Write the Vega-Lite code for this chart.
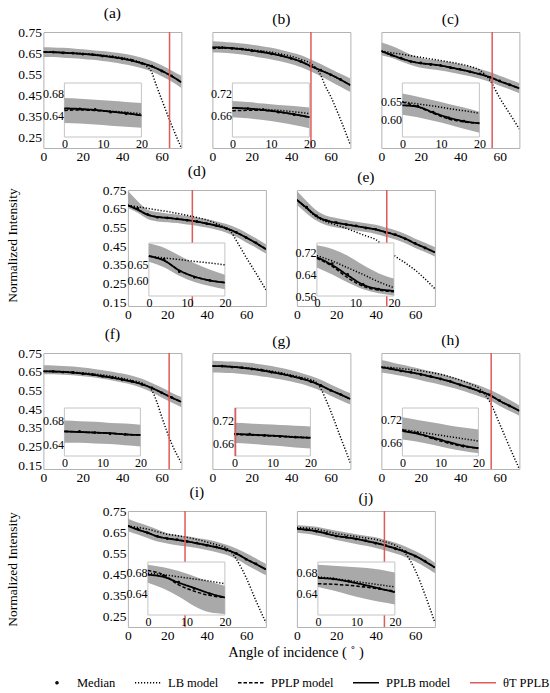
{
  "$schema": "https://vega.github.io/schema/vega-lite/v6.json",
  "config": {
    "font": "Liberation Serif",
    "view": {"stroke": "#b3b3b3", "strokeWidth": 1},
    "axis": {"domain": false, "ticks": false, "grid": false, "labelFont": "Liberation Serif", "labelColor": "#000000", "labelFontSize": 13.5, "labelPadding": 1, "labelFlush": false, "labelOverlap": false, "labelBound": false, "titleFont": "Liberation Serif", "titleFontWeight": "normal", "titleColor": "#000000"},
    "title": {"font": "Liberation Serif", "fontSize": 15.5, "fontWeight": "normal", "color": "#000000", "offset": 0},
    "legend": {"orient": "bottom", "direction": "horizontal", "labelFont": "Liberation Serif", "labelFontSize": 12.5, "labelColor": "#000000", "symbolSize": 676, "symbolStrokeWidth": 1.5, "columnPadding": 16, "labelOffset": 6, "offset": 4, "titleOrient": "top", "titleAnchor": "middle", "titleFont": "Liberation Serif", "titleFontSize": 14.5, "titleFontWeight": "normal", "titleColor": "#000000", "titlePadding": 8, "titleLimit": 400}
  },
  "datasets": {
    "th": [
      {"p":"a","t":64},{"p":"b","t":50},{"p":"c","t":56.2},{"p":"d","t":32.7},{"p":"e","t":45.6},
      {"p":"f","t":63.8},{"p":"h","t":55.7},{"p":"i","t":29},{"p":"j","t":44.4}
    ],
    "am": [
      {"a":0,"lo":0.632,"hi":0.678,"lb":0.656,"pl":0.655,"pb":0.655},
      {"a":5,"lo":0.631,"hi":0.677,"lb":0.655,"pl":0.654,"pb":0.654,"md":0.655},
      {"a":10,"lo":0.628,"hi":0.675,"lb":0.653,"pl":0.652,"pb":0.652,"md":0.651},
      {"a":15,"lo":0.625,"hi":0.672,"lb":0.651,"pl":0.649,"pb":0.649,"md":0.65},
      {"a":20,"lo":0.622,"hi":0.668,"lb":0.648,"pl":0.646,"pb":0.646,"md":0.645},
      {"a":25,"lo":0.618,"hi":0.664,"lb":0.645,"pl":0.642,"pb":0.642,"md":0.643},
      {"a":30,"lo":0.612,"hi":0.66,"lb":0.64,"pl":0.637,"pb":0.637,"md":0.636},
      {"a":35,"lo":0.606,"hi":0.654,"lb":0.635,"pl":0.631,"pb":0.631,"md":0.632},
      {"a":40,"lo":0.598,"hi":0.648,"lb":0.628,"pl":0.624,"pb":0.624,"md":0.623},
      {"a":45,"lo":0.59,"hi":0.64,"lb":0.618,"pl":0.614,"pb":0.614,"md":0.615},
      {"a":50,"lo":0.578,"hi":0.628,"lb":0.603,"pl":0.602,"pb":0.602,"md":0.601},
      {"a":52,"lb":0.59},
      {"a":55,"lo":0.563,"hi":0.613,"lb":0.558,"pl":0.587,"pb":0.587,"md":0.588},
      {"a":57,"lb":0.505},
      {"a":60,"lo":0.54,"hi":0.592,"lb":0.43,"pl":0.566,"pb":0.566,"md":0.565},
      {"a":65,"lo":0.515,"hi":0.568,"lb":0.31,"pl":0.541,"pb":0.541,"md":0.542},
      {"a":70,"lo":0.485,"hi":0.542,"lb":0.2,"pl":0.512,"pb":0.512}
    ],
    "ai": [
      {"a":0,"lo":0.626,"hi":0.672,"lb":0.652,"pl":0.649,"pb":0.653},
      {"a":4,"lo":0.625,"hi":0.671,"lb":0.651,"pl":0.65,"pb":0.652,"md":0.652},
      {"a":8,"lo":0.623,"hi":0.669,"lb":0.65,"pl":0.649,"pb":0.65,"md":0.651},
      {"a":12,"lo":0.621,"hi":0.667,"lb":0.648,"pl":0.647,"pb":0.647,"md":0.646},
      {"a":16,"lo":0.619,"hi":0.665,"lb":0.646,"pl":0.644,"pb":0.644,"md":0.643},
      {"a":20,"lo":0.617,"hi":0.663,"lb":0.643,"pl":0.64,"pb":0.64}
    ],
    "bm": [
      {"a":0,"lo":0.653,"hi":0.706,"lb":0.678,"pl":0.672,"pb":0.677},
      {"a":5,"lo":0.652,"hi":0.704,"lb":0.677,"pl":0.674,"pb":0.676,"md":0.676},
      {"a":10,"lo":0.648,"hi":0.7,"lb":0.675,"pl":0.672,"pb":0.673,"md":0.672},
      {"a":15,"lo":0.643,"hi":0.696,"lb":0.671,"pl":0.668,"pb":0.668,"md":0.669},
      {"a":20,"lo":0.636,"hi":0.69,"lb":0.666,"pl":0.662,"pb":0.662,"md":0.661},
      {"a":25,"lo":0.628,"hi":0.683,"lb":0.66,"pl":0.655,"pb":0.655,"md":0.656},
      {"a":30,"lo":0.62,"hi":0.675,"lb":0.654,"pl":0.647,"pb":0.647,"md":0.646},
      {"a":35,"lo":0.61,"hi":0.665,"lb":0.645,"pl":0.637,"pb":0.637,"md":0.638},
      {"a":40,"lo":0.598,"hi":0.653,"lb":0.635,"pl":0.625,"pb":0.625,"md":0.624},
      {"a":45,"lo":0.583,"hi":0.64,"lb":0.62,"pl":0.609,"pb":0.609,"md":0.61},
      {"a":50,"lo":0.563,"hi":0.62,"lb":0.6,"pl":0.588,"pb":0.588,"md":0.587},
      {"a":53,"lb":0.575},
      {"a":55,"lo":0.54,"hi":0.598,"lb":0.545,"pl":0.568,"pb":0.568,"md":0.569},
      {"a":57,"lb":0.5},
      {"a":60,"lo":0.515,"hi":0.575,"lb":0.445,"pl":0.548,"pb":0.548,"md":0.547},
      {"a":65,"lo":0.49,"hi":0.552,"lb":0.335,"pl":0.524,"pb":0.524,"md":0.525},
      {"a":70,"lo":0.465,"hi":0.53,"lb":0.215,"pl":0.498,"pb":0.498}
    ],
    "bi": [
      {"a":0,"lo":0.655,"hi":0.7,"lb":0.68,"pl":0.673,"pb":0.681},
      {"a":4,"lo":0.652,"hi":0.697,"lb":0.679,"pl":0.674,"pb":0.679,"md":0.679},
      {"a":8,"lo":0.647,"hi":0.693,"lb":0.677,"pl":0.674,"pb":0.675,"md":0.676},
      {"a":12,"lo":0.641,"hi":0.689,"lb":0.674,"pl":0.669,"pb":0.67,"md":0.669},
      {"a":16,"lo":0.633,"hi":0.686,"lb":0.67,"pl":0.663,"pb":0.663,"md":0.662},
      {"a":20,"lo":0.624,"hi":0.682,"lb":0.665,"pl":0.655,"pb":0.655}
    ],
    "cm": [
      {"a":0,"lo":0.64,"hi":0.7,"lb":0.66,"pl":0.66,"pb":0.659},
      {"a":5,"lo":0.628,"hi":0.685,"lb":0.652,"pl":0.64,"pb":0.642,"md":0.641},
      {"a":10,"lo":0.61,"hi":0.665,"lb":0.645,"pl":0.624,"pb":0.625,"md":0.626},
      {"a":15,"lo":0.594,"hi":0.642,"lb":0.637,"pl":0.611,"pb":0.611,"md":0.61},
      {"a":20,"lo":0.58,"hi":0.627,"lb":0.63,"pl":0.602,"pb":0.602,"md":0.603},
      {"a":25,"lo":0.573,"hi":0.619,"lb":0.622,"pl":0.597,"pb":0.597,"md":0.596},
      {"a":30,"lo":0.567,"hi":0.614,"lb":0.615,"pl":0.591,"pb":0.591,"md":0.592},
      {"a":35,"lo":0.559,"hi":0.606,"lb":0.607,"pl":0.582,"pb":0.582,"md":0.581},
      {"a":40,"lo":0.55,"hi":0.597,"lb":0.598,"pl":0.572,"pb":0.572,"md":0.573},
      {"a":45,"lo":0.54,"hi":0.587,"lb":0.587,"pl":0.562,"pb":0.562,"md":0.561},
      {"a":50,"lo":0.528,"hi":0.574,"lb":0.568,"pl":0.55,"pb":0.55,"md":0.551},
      {"a":55,"lo":0.513,"hi":0.56,"lb":0.522,"pl":0.536,"pb":0.536,"md":0.535},
      {"a":60,"lo":0.495,"hi":0.542,"lb":0.438,"pl":0.517,"pb":0.517,"md":0.518},
      {"a":65,"lo":0.478,"hi":0.525,"lb":0.364,"pl":0.5,"pb":0.5,"md":0.5},
      {"a":70,"lo":0.46,"hi":0.508,"lb":0.29,"pl":0.483,"pb":0.483}
    ],
    "ci": [
      {"a":0,"lo":0.612,"hi":0.671,"lb":0.648,"pl":0.647,"pb":0.638},
      {"a":4,"lo":0.605,"hi":0.662,"lb":0.642,"pl":0.634,"pb":0.634,"md":0.636},
      {"a":8,"lo":0.595,"hi":0.652,"lb":0.636,"pl":0.616,"pb":0.618,"md":0.619},
      {"a":12,"lo":0.585,"hi":0.642,"lb":0.629,"pl":0.6,"pb":0.604,"md":0.603},
      {"a":16,"lo":0.573,"hi":0.632,"lb":0.623,"pl":0.592,"pb":0.594,"md":0.594},
      {"a":20,"lo":0.562,"hi":0.62,"lb":0.616,"pl":0.588,"pb":0.588}
    ],
    "dm": [
      {"a":0,"lo":0.654,"hi":0.745,"lb":0.668,"pl":0.668,"pb":0.668},
      {"a":5,"lo":0.628,"hi":0.69,"lb":0.66,"pl":0.645,"pb":0.645,"md":0.652},
      {"a":10,"lo":0.595,"hi":0.645,"lb":0.652,"pl":0.618,"pb":0.618,"md":0.62},
      {"a":15,"lo":0.582,"hi":0.632,"lb":0.643,"pl":0.606,"pb":0.606,"md":0.604},
      {"a":20,"lo":0.578,"hi":0.625,"lb":0.635,"pl":0.601,"pb":0.601,"md":0.601},
      {"a":25,"lo":0.573,"hi":0.619,"lb":0.625,"pl":0.595,"pb":0.595,"md":0.596},
      {"a":30,"lo":0.566,"hi":0.612,"lb":0.615,"pl":0.589,"pb":0.589,"md":0.588},
      {"a":35,"lo":0.559,"hi":0.604,"lb":0.603,"pl":0.581,"pb":0.581,"md":0.582},
      {"a":40,"lo":0.549,"hi":0.594,"lb":0.59,"pl":0.571,"pb":0.571,"md":0.57},
      {"a":45,"lo":0.537,"hi":0.582,"lb":0.57,"pl":0.559,"pb":0.559,"md":0.56},
      {"a":50,"lo":0.522,"hi":0.568,"lb":0.545,"pl":0.545,"pb":0.545,"md":0.544},
      {"a":52,"lb":0.53},
      {"a":55,"lo":0.5,"hi":0.548,"lb":0.48,"pl":0.523,"pb":0.523,"md":0.524},
      {"a":60,"lo":0.47,"hi":0.522,"lb":0.39,"pl":0.496,"pb":0.496,"md":0.495},
      {"a":65,"lo":0.442,"hi":0.492,"lb":0.305,"pl":0.466,"pb":0.466,"md":0.467},
      {"a":70,"lo":0.41,"hi":0.46,"lb":0.217,"pl":0.434,"pb":0.434}
    ],
    "di": [
      {"a":0,"lo":0.66,"hi":0.718,"lb":0.678,"pl":0.678,"pb":0.678},
      {"a":4,"lo":0.642,"hi":0.705,"lb":0.672,"pl":0.664,"pb":0.664,"md":0.668},
      {"a":8,"lo":0.615,"hi":0.68,"lb":0.667,"pl":0.632,"pb":0.632,"md":0.628},
      {"a":12,"lo":0.595,"hi":0.655,"lb":0.661,"pl":0.612,"pb":0.612,"md":0.61},
      {"a":16,"lo":0.582,"hi":0.635,"lb":0.656,"pl":0.6,"pb":0.6,"md":0.6},
      {"a":20,"lo":0.572,"hi":0.618,"lb":0.65,"pl":0.593,"pb":0.593}
    ],
    "em": [
      {"a":0,"lo":0.671,"hi":0.745,"lb":0.697,"pl":0.697,"pb":0.697},
      {"a":5,"lo":0.625,"hi":0.69,"lb":0.65,"pl":0.654,"pb":0.654,"md":0.658},
      {"a":10,"lo":0.585,"hi":0.64,"lb":0.605,"pl":0.61,"pb":0.61,"md":0.612},
      {"a":15,"lo":0.562,"hi":0.612,"lb":0.58,"pl":0.587,"pb":0.587,"md":0.586},
      {"a":20,"lo":0.55,"hi":0.6,"lb":0.563,"pl":0.575,"pb":0.575,"md":0.576},
      {"a":25,"lo":0.542,"hi":0.59,"lb":0.545,"pl":0.566,"pb":0.566,"md":0.565},
      {"a":30,"lo":0.534,"hi":0.58,"lb":0.525,"pl":0.557,"pb":0.557,"md":0.558},
      {"a":35,"lo":0.525,"hi":0.572,"lb":0.505,"pl":0.548,"pb":0.548,"md":0.547},
      {"a":40,"lo":0.515,"hi":0.564,"lb":0.485,"pl":0.539,"pb":0.539,"md":0.54},
      {"a":45,"lo":0.5,"hi":0.55,"lb":0.44,"pl":0.525,"pb":0.525,"md":0.524},
      {"a":50,"lo":0.485,"hi":0.535,"lb":0.395,"pl":0.51,"pb":0.51,"md":0.511},
      {"a":55,"lo":0.465,"hi":0.515,"lb":0.36,"pl":0.49,"pb":0.49,"md":0.489},
      {"a":60,"lo":0.44,"hi":0.49,"lb":0.322,"pl":0.464,"pb":0.464,"md":0.465},
      {"a":65,"lo":0.418,"hi":0.468,"lb":0.275,"pl":0.441,"pb":0.441,"md":0.44},
      {"a":70,"lo":0.395,"hi":0.445,"lb":0.222,"pl":0.417,"pb":0.417}
    ],
    "ei": [
      {"a":0,"lo":0.666,"hi":0.749,"lb":0.71,"pl":0.7,"pb":0.704},
      {"a":4,"lo":0.64,"hi":0.735,"lb":0.69,"pl":0.67,"pb":0.675,"md":0.68},
      {"a":8,"lo":0.61,"hi":0.71,"lb":0.665,"pl":0.628,"pb":0.637,"md":0.64},
      {"a":12,"lo":0.585,"hi":0.675,"lb":0.64,"pl":0.596,"pb":0.602,"md":0.603},
      {"a":16,"lo":0.57,"hi":0.645,"lb":0.613,"pl":0.582,"pb":0.586,"md":0.585},
      {"a":20,"lo":0.562,"hi":0.625,"lb":0.591,"pl":0.576,"pb":0.579}
    ],
    "fm": [
      {"a":0,"lo":0.636,"hi":0.684,"lb":0.653,"pl":0.652,"pb":0.652},
      {"a":5,"lo":0.636,"hi":0.683,"lb":0.652,"pl":0.651,"pb":0.651,"md":0.652},
      {"a":10,"lo":0.634,"hi":0.681,"lb":0.65,"pl":0.649,"pb":0.649,"md":0.648},
      {"a":15,"lo":0.631,"hi":0.678,"lb":0.648,"pl":0.645,"pb":0.645,"md":0.646},
      {"a":20,"lo":0.626,"hi":0.672,"lb":0.644,"pl":0.64,"pb":0.64,"md":0.639},
      {"a":25,"lo":0.62,"hi":0.666,"lb":0.639,"pl":0.634,"pb":0.634,"md":0.635},
      {"a":30,"lo":0.612,"hi":0.658,"lb":0.633,"pl":0.626,"pb":0.626,"md":0.625},
      {"a":35,"lo":0.603,"hi":0.65,"lb":0.625,"pl":0.618,"pb":0.618,"md":0.619},
      {"a":40,"lo":0.592,"hi":0.64,"lb":0.615,"pl":0.608,"pb":0.608,"md":0.607},
      {"a":45,"lo":0.58,"hi":0.628,"lb":0.603,"pl":0.597,"pb":0.597,"md":0.598},
      {"a":50,"lo":0.563,"hi":0.612,"lb":0.59,"pl":0.583,"pb":0.583,"md":0.582},
      {"a":52,"lb":0.578},
      {"a":55,"lo":0.54,"hi":0.59,"lb":0.551,"pl":0.563,"pb":0.563,"md":0.564},
      {"a":57.5,"lb":0.49},
      {"a":60,"lo":0.512,"hi":0.565,"lb":0.41,"pl":0.538,"pb":0.538,"md":0.537},
      {"a":62.5,"lb":0.335},
      {"a":65,"lo":0.485,"hi":0.538,"lb":0.267,"pl":0.512,"pb":0.512,"md":0.513},
      {"a":70,"lo":0.46,"hi":0.515,"lb":0.163,"pl":0.489,"pb":0.489}
    ],
    "fi": [
      {"a":0,"lo":0.642,"hi":0.679,"lb":0.661,"pl":0.661,"pb":0.661},
      {"a":4,"lo":0.642,"hi":0.678,"lb":0.66,"pl":0.66,"pb":0.66,"md":0.661},
      {"a":8,"lo":0.641,"hi":0.677,"lb":0.659,"pl":0.659,"pb":0.659,"md":0.659},
      {"a":12,"lo":0.64,"hi":0.675,"lb":0.658,"pl":0.658,"pb":0.658,"md":0.657},
      {"a":16,"lo":0.638,"hi":0.674,"lb":0.656,"pl":0.656,"pb":0.656,"md":0.656},
      {"a":20,"lo":0.636,"hi":0.672,"lb":0.655,"pl":0.655,"pb":0.655}
    ],
    "gm": [
      {"a":0,"lo":0.646,"hi":0.708,"lb":0.68,"pl":0.68,"pb":0.68},
      {"a":5,"lo":0.645,"hi":0.706,"lb":0.679,"pl":0.679,"pb":0.679,"md":0.68},
      {"a":10,"lo":0.643,"hi":0.704,"lb":0.677,"pl":0.676,"pb":0.676,"md":0.675},
      {"a":15,"lo":0.638,"hi":0.7,"lb":0.673,"pl":0.671,"pb":0.671,"md":0.672},
      {"a":20,"lo":0.632,"hi":0.696,"lb":0.668,"pl":0.665,"pb":0.665,"md":0.664},
      {"a":25,"lo":0.625,"hi":0.688,"lb":0.661,"pl":0.657,"pb":0.657,"md":0.658},
      {"a":30,"lo":0.618,"hi":0.68,"lb":0.653,"pl":0.648,"pb":0.648,"md":0.647},
      {"a":35,"lo":0.608,"hi":0.67,"lb":0.643,"pl":0.638,"pb":0.638,"md":0.639},
      {"a":40,"lo":0.598,"hi":0.658,"lb":0.632,"pl":0.627,"pb":0.627,"md":0.626},
      {"a":45,"lo":0.585,"hi":0.643,"lb":0.62,"pl":0.613,"pb":0.613,"md":0.614},
      {"a":50,"lo":0.568,"hi":0.627,"lb":0.607,"pl":0.598,"pb":0.598,"md":0.597},
      {"a":53,"lb":0.59},
      {"a":55,"lo":0.548,"hi":0.607,"lb":0.56,"pl":0.576,"pb":0.576,"md":0.577},
      {"a":57,"lb":0.515},
      {"a":60,"lo":0.522,"hi":0.582,"lb":0.44,"pl":0.551,"pb":0.551,"md":0.55},
      {"a":65,"lo":0.498,"hi":0.558,"lb":0.3,"pl":0.528,"pb":0.528,"md":0.529},
      {"a":70,"lo":0.475,"hi":0.535,"lb":0.163,"pl":0.504,"pb":0.504}
    ],
    "gi": [
      {"a":0,"lo":0.66,"hi":0.715,"lb":0.685,"pl":0.683,"pb":0.685},
      {"a":4,"lo":0.658,"hi":0.713,"lb":0.683,"pl":0.682,"pb":0.683,"md":0.684},
      {"a":8,"lo":0.655,"hi":0.711,"lb":0.681,"pl":0.68,"pb":0.681,"md":0.681},
      {"a":12,"lo":0.652,"hi":0.709,"lb":0.679,"pl":0.678,"pb":0.679,"md":0.678},
      {"a":16,"lo":0.648,"hi":0.707,"lb":0.677,"pl":0.676,"pb":0.676,"md":0.676},
      {"a":20,"lo":0.645,"hi":0.705,"lb":0.675,"pl":0.675,"pb":0.674}
    ],
    "hm": [
      {"a":0,"lo":0.646,"hi":0.712,"lb":0.676,"pl":0.674,"pb":0.674},
      {"a":5,"lo":0.638,"hi":0.7,"lb":0.672,"pl":0.665,"pb":0.665,"md":0.666},
      {"a":10,"lo":0.628,"hi":0.688,"lb":0.667,"pl":0.655,"pb":0.655,"md":0.654},
      {"a":15,"lo":0.617,"hi":0.677,"lb":0.661,"pl":0.646,"pb":0.646,"md":0.647},
      {"a":20,"lo":0.605,"hi":0.665,"lb":0.655,"pl":0.636,"pb":0.636,"md":0.635},
      {"a":25,"lo":0.592,"hi":0.652,"lb":0.646,"pl":0.624,"pb":0.624,"md":0.625},
      {"a":30,"lo":0.58,"hi":0.64,"lb":0.636,"pl":0.612,"pb":0.612,"md":0.611},
      {"a":35,"lo":0.567,"hi":0.625,"lb":0.622,"pl":0.597,"pb":0.597,"md":0.598},
      {"a":40,"lo":0.552,"hi":0.61,"lb":0.605,"pl":0.58,"pb":0.58,"md":0.579},
      {"a":45,"lo":0.535,"hi":0.592,"lb":0.585,"pl":0.563,"pb":0.563,"md":0.564},
      {"a":50,"lo":0.518,"hi":0.575,"lb":0.558,"pl":0.545,"pb":0.545,"md":0.544},
      {"a":55,"lo":0.497,"hi":0.553,"lb":0.49,"pl":0.525,"pb":0.525,"md":0.526},
      {"a":60,"lo":0.467,"hi":0.528,"lb":0.371,"pl":0.494,"pb":0.494,"md":0.495},
      {"a":65,"lo":0.44,"hi":0.5,"lb":0.248,"pl":0.468,"pb":0.468,"md":0.467},
      {"a":70,"lo":0.415,"hi":0.47,"lb":0.13,"pl":0.441,"pb":0.441}
    ],
    "hi": [
      {"a":0,"lo":0.669,"hi":0.727,"lb":0.695,"pl":0.694,"pb":0.691},
      {"a":4,"lo":0.663,"hi":0.72,"lb":0.689,"pl":0.685,"pb":0.684,"md":0.686},
      {"a":8,"lo":0.655,"hi":0.713,"lb":0.683,"pl":0.671,"pb":0.674,"md":0.673},
      {"a":12,"lo":0.646,"hi":0.706,"lb":0.677,"pl":0.66,"pb":0.663,"md":0.662},
      {"a":16,"lo":0.639,"hi":0.7,"lb":0.671,"pl":0.651,"pb":0.653,"md":0.652},
      {"a":20,"lo":0.633,"hi":0.695,"lb":0.665,"pl":0.647,"pb":0.646}
    ],
    "im": [
      {"a":0,"lo":0.654,"hi":0.713,"lb":0.679,"pl":0.681,"pb":0.679},
      {"a":5,"lo":0.638,"hi":0.695,"lb":0.672,"pl":0.662,"pb":0.662,"md":0.664},
      {"a":10,"lo":0.622,"hi":0.68,"lb":0.664,"pl":0.647,"pb":0.647,"md":0.646},
      {"a":15,"lo":0.605,"hi":0.662,"lb":0.652,"pl":0.629,"pb":0.629,"md":0.63},
      {"a":20,"lo":0.596,"hi":0.645,"lb":0.64,"pl":0.62,"pb":0.62,"md":0.619},
      {"a":25,"lo":0.588,"hi":0.636,"lb":0.633,"pl":0.613,"pb":0.613,"md":0.614},
      {"a":30,"lo":0.582,"hi":0.63,"lb":0.625,"pl":0.606,"pb":0.606,"md":0.605},
      {"a":35,"lo":0.574,"hi":0.622,"lb":0.615,"pl":0.597,"pb":0.597,"md":0.598},
      {"a":40,"lo":0.565,"hi":0.615,"lb":0.603,"pl":0.588,"pb":0.588,"md":0.587},
      {"a":45,"lo":0.554,"hi":0.604,"lb":0.59,"pl":0.578,"pb":0.578,"md":0.579},
      {"a":50,"lo":0.542,"hi":0.59,"lb":0.574,"pl":0.566,"pb":0.566,"md":0.565},
      {"a":52.5,"lb":0.556},
      {"a":55,"lo":0.522,"hi":0.572,"lb":0.522,"pl":0.548,"pb":0.548,"md":0.549},
      {"a":60,"lo":0.495,"hi":0.55,"lb":0.434,"pl":0.522,"pb":0.522,"md":0.521},
      {"a":65,"lo":0.47,"hi":0.525,"lb":0.324,"pl":0.498,"pb":0.498,"md":0.499},
      {"a":70,"lo":0.445,"hi":0.5,"lb":0.221,"pl":0.473,"pb":0.473}
    ],
    "ii": [
      {"a":0,"lo":0.661,"hi":0.695,"lb":0.679,"pl":0.684,"pb":0.676},
      {"a":4,"lo":0.65,"hi":0.69,"lb":0.676,"pl":0.676,"pb":0.672,"md":0.674},
      {"a":8,"lo":0.635,"hi":0.683,"lb":0.672,"pl":0.657,"pb":0.661,"md":0.662},
      {"a":12,"lo":0.617,"hi":0.673,"lb":0.668,"pl":0.645,"pb":0.651,"md":0.65},
      {"a":16,"lo":0.605,"hi":0.663,"lb":0.664,"pl":0.637,"pb":0.641,"md":0.64},
      {"a":20,"lo":0.602,"hi":0.655,"lb":0.659,"pl":0.633,"pb":0.633}
    ],
    "jm": [
      {"a":0,"lo":0.647,"hi":0.684,"lb":0.672,"pl":0.666,"pb":0.666},
      {"a":5,"lo":0.642,"hi":0.68,"lb":0.669,"pl":0.661,"pb":0.661,"md":0.662},
      {"a":10,"lo":0.634,"hi":0.675,"lb":0.664,"pl":0.654,"pb":0.654,"md":0.653},
      {"a":15,"lo":0.624,"hi":0.666,"lb":0.654,"pl":0.643,"pb":0.643,"md":0.644},
      {"a":20,"lo":0.612,"hi":0.656,"lb":0.643,"pl":0.632,"pb":0.632,"md":0.631},
      {"a":25,"lo":0.603,"hi":0.648,"lb":0.636,"pl":0.625,"pb":0.625,"md":0.626},
      {"a":30,"lo":0.594,"hi":0.64,"lb":0.629,"pl":0.618,"pb":0.618,"md":0.617},
      {"a":35,"lo":0.585,"hi":0.633,"lb":0.622,"pl":0.608,"pb":0.608,"md":0.609},
      {"a":40,"lo":0.575,"hi":0.625,"lb":0.615,"pl":0.598,"pb":0.598,"md":0.597},
      {"a":45,"lo":0.563,"hi":0.613,"lb":0.603,"pl":0.586,"pb":0.586,"md":0.587},
      {"a":50,"lo":0.548,"hi":0.6,"lb":0.587,"pl":0.572,"pb":0.572,"md":0.571},
      {"a":53,"lb":0.57},
      {"a":55,"lo":0.532,"hi":0.582,"lb":0.55,"pl":0.556,"pb":0.556,"md":0.557},
      {"a":60,"lo":0.51,"hi":0.56,"lb":0.47,"pl":0.537,"pb":0.537,"md":0.536},
      {"a":65,"lo":0.485,"hi":0.535,"lb":0.353,"pl":0.511,"pb":0.511,"md":0.512},
      {"a":70,"lo":0.455,"hi":0.505,"lb":0.221,"pl":0.482,"pb":0.482}
    ],
    "ji": [
      {"a":0,"lo":0.653,"hi":0.695,"lb":0.672,"pl":0.659,"pb":0.67},
      {"a":4,"lo":0.646,"hi":0.693,"lb":0.669,"pl":0.658,"pb":0.668,"md":0.668},
      {"a":8,"lo":0.638,"hi":0.691,"lb":0.665,"pl":0.656,"pb":0.663,"md":0.664},
      {"a":12,"lo":0.631,"hi":0.689,"lb":0.661,"pl":0.653,"pb":0.657,"md":0.656},
      {"a":16,"lo":0.625,"hi":0.686,"lb":0.657,"pl":0.649,"pb":0.65,"md":0.65},
      {"a":20,"lo":0.62,"hi":0.68,"lb":0.653,"pl":0.645,"pb":0.643}
    ]
  },
  "spacing": 5,
  "center": true,
  "vconcat": [
    {
      "spacing": 0,
      "center": true,
      "vconcat": [
        {
          "spacing": 31,
          "bounds": "flush",
          "hconcat": [
            {
              "title": "(a)", "width": 138, "height": 116,
              "layer": [
                {
                  "data": {"name": "am"},
                  "encoding": {"x": {"field": "a", "type": "quantitative", "scale": {"domain": [0, 70], "nice": false, "zero": false}, "axis": {"values": [0, 20, 40, 60], "title": null}}},
                  "layer": [
                    {"mark": {"type": "area", "color": "#a9a9a9", "opacity": 1, "interpolate": "monotone", "clip": true, "invalid": "filter"}, "encoding": {"y": {"field": "lo", "type": "quantitative", "scale": {"domain": [0.2, 0.75], "nice": false, "zero": false}, "axis": {"values": [0.25, 0.35, 0.45, 0.55, 0.65, 0.75], "tickCount": 20, "format": ".2f", "labelPadding": 2, "title": null}}, "y2": {"field": "hi"}}},
                    {"mark": {"type": "line", "interpolate": "monotone", "clip": true, "strokeWidth": 1.5, "invalid": "filter"}, "encoding": {"y": {"field": "lb", "type": "quantitative"}, "color": {"datum": "LB model", "scale": {"domain": ["Median", "LB model", "PPLP model", "PPLB model", "θT PPLB"], "range": ["#000000", "#000000", "#000000", "#000000", "#e05a5a"]}, "legend": {"title": "Angle of incidence ( ˚ )"}}, "strokeDash": {"datum": "LB model", "scale": {"domain": ["Median", "LB model", "PPLP model", "PPLB model", "θT PPLB"], "range": [[1, 0], [1.2, 1.8], [3.5, 2], [1, 0], [1, 0]]}, "legend": {"title": "Angle of incidence ( ˚ )"}}}},
                    {"mark": {"type": "line", "interpolate": "monotone", "clip": true, "strokeWidth": 1.5, "invalid": "filter"}, "encoding": {"y": {"field": "pl", "type": "quantitative"}, "color": {"datum": "PPLP model"}, "strokeDash": {"datum": "PPLP model"}}},
                    {"mark": {"type": "line", "interpolate": "monotone", "clip": true, "strokeWidth": 1.8, "invalid": "filter"}, "encoding": {"y": {"field": "pb", "type": "quantitative"}, "color": {"datum": "PPLB model"}, "strokeDash": {"datum": "PPLB model"}}},
                    {"mark": {"type": "point", "filled": false, "opacity": 1, "size": 400, "strokeWidth": 1.2}, "encoding": {"y": {"field": "md", "type": "quantitative"}, "color": {"datum": "Median"}, "shape": {"datum": "Median", "scale": {"domain": ["Median", "LB model", "PPLP model", "PPLB model", "θT PPLB"], "range": ["M0,-0.08A0.08,0.08 0 1,1 0,0.08A0.08,0.08 0 1,1 0,-0.08Z", "M-1,0L1,0", "M-1,0L1,0", "M-1,0L1,0", "M-1,0L1,0"]}, "legend": {"title": "Angle of incidence ( ˚ )"}}}},
                    {"data": {"name": "th"}, "transform": [{"filter": "datum.p == 'a'"}], "mark": {"type": "rule", "strokeWidth": 1.5}, "encoding": {"x": {"field": "t", "type": "quantitative"}, "color": {"datum": "θT PPLB"}, "strokeDash": {"datum": "θT PPLB"}}}
                  ]
                },
                {
                  "data": {"name": "ai"},
                  "encoding": {"x": {"field": "a", "type": "quantitative", "scale": {"domain": [0, 20], "range": [21, 98], "nice": false, "zero": false}, "axis": {"orient": "bottom", "offset": -11, "values": [0, 10, 20], "labelFontSize": 12, "labelPadding": 1, "zindex": 1, "title": null}}},
                  "layer": [
                    {"transform": [{"filter": "datum.a == 0"}], "mark": {"type": "rect", "fill": "#ffffff", "stroke": "#c4c4c4", "strokeWidth": 1}, "encoding": {"x2": {"datum": 20}, "y": {"datum": 0.6, "scale": {"domain": [0.6, 0.7], "range": [105, 51], "nice": false, "zero": false}, "axis": {"orient": "left", "offset": -21, "values": [0.64, 0.68], "tickCount": 20, "format": ".2f", "labelFontSize": 12, "labelPadding": 1, "zindex": 1, "title": null}}, "y2": {"datum": 0.7}}},
                    {"mark": {"type": "area", "color": "#a9a9a9", "opacity": 1, "interpolate": "monotone", "invalid": "filter"}, "encoding": {"y": {"field": "lo", "type": "quantitative"}, "y2": {"field": "hi"}}},
                    {"mark": {"type": "line", "interpolate": "monotone", "strokeWidth": 1.5, "invalid": "filter"}, "encoding": {"y": {"field": "lb", "type": "quantitative"}, "color": {"datum": "LB model"}, "strokeDash": {"datum": "LB model"}}},
                    {"mark": {"type": "line", "interpolate": "monotone", "strokeWidth": 1.5, "invalid": "filter"}, "encoding": {"y": {"field": "pl", "type": "quantitative"}, "color": {"datum": "PPLP model"}, "strokeDash": {"datum": "PPLP model"}}},
                    {"mark": {"type": "line", "interpolate": "monotone", "strokeWidth": 1.8, "invalid": "filter"}, "encoding": {"y": {"field": "pb", "type": "quantitative"}, "color": {"datum": "PPLB model"}, "strokeDash": {"datum": "PPLB model"}}},
                    {"mark": {"type": "point", "filled": false, "opacity": 1, "size": 400, "strokeWidth": 1.2}, "encoding": {"y": {"field": "md", "type": "quantitative"}, "color": {"datum": "Median"}, "shape": {"datum": "Median"}}}
                  ]
                }
              ],
              "resolve": {"scale": {"x": "independent", "y": "independent"}}
            },
            {
              "title": "(b)", "width": 138, "height": 116,
              "layer": [
                {
                  "data": {"name": "bm"},
                  "encoding": {"x": {"field": "a", "type": "quantitative", "scale": {"domain": [0, 70], "nice": false, "zero": false}, "axis": {"values": [0, 20, 40, 60], "title": null}}},
                  "layer": [
                    {"mark": {"type": "area", "color": "#a9a9a9", "opacity": 1, "interpolate": "monotone", "clip": true, "invalid": "filter"}, "encoding": {"y": {"field": "lo", "type": "quantitative", "scale": {"domain": [0.2, 0.75], "nice": false, "zero": false}, "axis": null}, "y2": {"field": "hi"}}},
                    {"mark": {"type": "line", "interpolate": "monotone", "clip": true, "strokeWidth": 1.5, "invalid": "filter"}, "encoding": {"y": {"field": "lb", "type": "quantitative"}, "color": {"datum": "LB model"}, "strokeDash": {"datum": "LB model"}}},
                    {"mark": {"type": "line", "interpolate": "monotone", "clip": true, "strokeWidth": 1.5, "invalid": "filter"}, "encoding": {"y": {"field": "pl", "type": "quantitative"}, "color": {"datum": "PPLP model"}, "strokeDash": {"datum": "PPLP model"}}},
                    {"mark": {"type": "line", "interpolate": "monotone", "clip": true, "strokeWidth": 1.8, "invalid": "filter"}, "encoding": {"y": {"field": "pb", "type": "quantitative"}, "color": {"datum": "PPLB model"}, "strokeDash": {"datum": "PPLB model"}}},
                    {"mark": {"type": "point", "filled": false, "opacity": 1, "size": 400, "strokeWidth": 1.2}, "encoding": {"y": {"field": "md", "type": "quantitative"}, "color": {"datum": "Median"}, "shape": {"datum": "Median"}}},
                    {"data": {"name": "th"}, "transform": [{"filter": "datum.p == 'b'"}], "mark": {"type": "rule", "strokeWidth": 1.5}, "encoding": {"x": {"field": "t", "type": "quantitative"}, "color": {"datum": "θT PPLB"}, "strokeDash": {"datum": "θT PPLB"}}}
                  ]
                },
                {
                  "data": {"name": "bi"},
                  "encoding": {"x": {"field": "a", "type": "quantitative", "scale": {"domain": [0, 20], "range": [20, 97], "nice": false, "zero": false}, "axis": {"orient": "bottom", "offset": -11, "values": [0, 10, 20], "labelFontSize": 12, "labelPadding": 1, "zindex": 1, "title": null}}},
                  "layer": [
                    {"transform": [{"filter": "datum.a == 0"}], "mark": {"type": "rect", "fill": "#ffffff", "stroke": "#c4c4c4", "strokeWidth": 1}, "encoding": {"x2": {"datum": 20}, "y": {"datum": 0.6, "scale": {"domain": [0.6, 0.75], "range": [105, 51], "nice": false, "zero": false}, "axis": {"orient": "left", "offset": -20, "values": [0.66, 0.72], "tickCount": 20, "format": ".2f", "labelFontSize": 12, "labelPadding": 1, "zindex": 1, "title": null}}, "y2": {"datum": 0.75}}},
                    {"mark": {"type": "area", "color": "#a9a9a9", "opacity": 1, "interpolate": "monotone", "invalid": "filter"}, "encoding": {"y": {"field": "lo", "type": "quantitative"}, "y2": {"field": "hi"}}},
                    {"mark": {"type": "line", "interpolate": "monotone", "strokeWidth": 1.5, "invalid": "filter"}, "encoding": {"y": {"field": "lb", "type": "quantitative"}, "color": {"datum": "LB model"}, "strokeDash": {"datum": "LB model"}}},
                    {"mark": {"type": "line", "interpolate": "monotone", "strokeWidth": 1.5, "invalid": "filter"}, "encoding": {"y": {"field": "pl", "type": "quantitative"}, "color": {"datum": "PPLP model"}, "strokeDash": {"datum": "PPLP model"}}},
                    {"mark": {"type": "line", "interpolate": "monotone", "strokeWidth": 1.8, "invalid": "filter"}, "encoding": {"y": {"field": "pb", "type": "quantitative"}, "color": {"datum": "PPLB model"}, "strokeDash": {"datum": "PPLB model"}}},
                    {"mark": {"type": "point", "filled": false, "opacity": 1, "size": 400, "strokeWidth": 1.2}, "encoding": {"y": {"field": "md", "type": "quantitative"}, "color": {"datum": "Median"}, "shape": {"datum": "Median"}}}
                  ]
                }
              ],
              "resolve": {"scale": {"x": "independent", "y": "independent"}}
            },
            {
              "title": "(c)", "width": 138, "height": 116,
              "layer": [
                {
                  "data": {"name": "cm"},
                  "encoding": {"x": {"field": "a", "type": "quantitative", "scale": {"domain": [0, 70], "nice": false, "zero": false}, "axis": {"values": [0, 20, 40, 60], "title": null}}},
                  "layer": [
                    {"mark": {"type": "area", "color": "#a9a9a9", "opacity": 1, "interpolate": "monotone", "clip": true, "invalid": "filter"}, "encoding": {"y": {"field": "lo", "type": "quantitative", "scale": {"domain": [0.2, 0.75], "nice": false, "zero": false}, "axis": null}, "y2": {"field": "hi"}}},
                    {"mark": {"type": "line", "interpolate": "monotone", "clip": true, "strokeWidth": 1.5, "invalid": "filter"}, "encoding": {"y": {"field": "lb", "type": "quantitative"}, "color": {"datum": "LB model"}, "strokeDash": {"datum": "LB model"}}},
                    {"mark": {"type": "line", "interpolate": "monotone", "clip": true, "strokeWidth": 1.5, "invalid": "filter"}, "encoding": {"y": {"field": "pl", "type": "quantitative"}, "color": {"datum": "PPLP model"}, "strokeDash": {"datum": "PPLP model"}}},
                    {"mark": {"type": "line", "interpolate": "monotone", "clip": true, "strokeWidth": 1.8, "invalid": "filter"}, "encoding": {"y": {"field": "pb", "type": "quantitative"}, "color": {"datum": "PPLB model"}, "strokeDash": {"datum": "PPLB model"}}},
                    {"mark": {"type": "point", "filled": false, "opacity": 1, "size": 400, "strokeWidth": 1.2}, "encoding": {"y": {"field": "md", "type": "quantitative"}, "color": {"datum": "Median"}, "shape": {"datum": "Median"}}},
                    {"data": {"name": "th"}, "transform": [{"filter": "datum.p == 'c'"}], "mark": {"type": "rule", "strokeWidth": 1.5}, "encoding": {"x": {"field": "t", "type": "quantitative"}, "color": {"datum": "θT PPLB"}, "strokeDash": {"datum": "θT PPLB"}}}
                  ]
                },
                {
                  "data": {"name": "ci"},
                  "encoding": {"x": {"field": "a", "type": "quantitative", "scale": {"domain": [0, 20], "range": [21, 98], "nice": false, "zero": false}, "axis": {"orient": "bottom", "offset": -11, "values": [0, 10, 20], "labelFontSize": 12, "labelPadding": 1, "zindex": 1, "title": null}}},
                  "layer": [
                    {"transform": [{"filter": "datum.a == 0"}], "mark": {"type": "rect", "fill": "#ffffff", "stroke": "#c4c4c4", "strokeWidth": 1}, "encoding": {"x2": {"datum": 20}, "y": {"datum": 0.55, "scale": {"domain": [0.55, 0.7], "range": [105, 51], "nice": false, "zero": false}, "axis": {"orient": "left", "offset": -21, "values": [0.6, 0.65], "tickCount": 20, "format": ".2f", "labelFontSize": 12, "labelPadding": 1, "zindex": 1, "title": null}}, "y2": {"datum": 0.7}}},
                    {"mark": {"type": "area", "color": "#a9a9a9", "opacity": 1, "interpolate": "monotone", "invalid": "filter"}, "encoding": {"y": {"field": "lo", "type": "quantitative"}, "y2": {"field": "hi"}}},
                    {"mark": {"type": "line", "interpolate": "monotone", "strokeWidth": 1.5, "invalid": "filter"}, "encoding": {"y": {"field": "lb", "type": "quantitative"}, "color": {"datum": "LB model"}, "strokeDash": {"datum": "LB model"}}},
                    {"mark": {"type": "line", "interpolate": "monotone", "strokeWidth": 1.5, "invalid": "filter"}, "encoding": {"y": {"field": "pl", "type": "quantitative"}, "color": {"datum": "PPLP model"}, "strokeDash": {"datum": "PPLP model"}}},
                    {"mark": {"type": "line", "interpolate": "monotone", "strokeWidth": 1.8, "invalid": "filter"}, "encoding": {"y": {"field": "pb", "type": "quantitative"}, "color": {"datum": "PPLB model"}, "strokeDash": {"datum": "PPLB model"}}},
                    {"mark": {"type": "point", "filled": false, "opacity": 1, "size": 400, "strokeWidth": 1.2}, "encoding": {"y": {"field": "md", "type": "quantitative"}, "color": {"datum": "Median"}, "shape": {"datum": "Median"}}}
                  ]
                }
              ],
              "resolve": {"scale": {"x": "independent", "y": "independent"}}
            }
          ]
        },
        {
          "spacing": 31,
          "bounds": "flush",
          "hconcat": [
            {
              "title": "(d)", "width": 138, "height": 116,
              "layer": [
                {
                  "data": {"name": "dm"},
                  "encoding": {"x": {"field": "a", "type": "quantitative", "scale": {"domain": [0, 70], "nice": false, "zero": false}, "axis": {"values": [0, 20, 40, 60], "title": null}}},
                  "layer": [
                    {"mark": {"type": "area", "color": "#a9a9a9", "opacity": 1, "interpolate": "monotone", "clip": true, "invalid": "filter"}, "encoding": {"y": {"field": "lo", "type": "quantitative", "scale": {"domain": [0.13, 0.75], "nice": false, "zero": false}, "axis": {"values": [0.15, 0.25, 0.35, 0.45, 0.55, 0.65, 0.75], "tickCount": 20, "format": ".2f", "labelPadding": 2, "title": "Normalized Intensity", "titleFontSize": 13.5, "titleAngle": -90, "titleX": -108, "titleY": 55}}, "y2": {"field": "hi"}}},
                    {"mark": {"type": "line", "interpolate": "monotone", "clip": true, "strokeWidth": 1.5, "invalid": "filter"}, "encoding": {"y": {"field": "lb", "type": "quantitative"}, "color": {"datum": "LB model"}, "strokeDash": {"datum": "LB model"}}},
                    {"mark": {"type": "line", "interpolate": "monotone", "clip": true, "strokeWidth": 1.5, "invalid": "filter"}, "encoding": {"y": {"field": "pl", "type": "quantitative"}, "color": {"datum": "PPLP model"}, "strokeDash": {"datum": "PPLP model"}}},
                    {"mark": {"type": "line", "interpolate": "monotone", "clip": true, "strokeWidth": 1.8, "invalid": "filter"}, "encoding": {"y": {"field": "pb", "type": "quantitative"}, "color": {"datum": "PPLB model"}, "strokeDash": {"datum": "PPLB model"}}},
                    {"mark": {"type": "point", "filled": false, "opacity": 1, "size": 400, "strokeWidth": 1.2}, "encoding": {"y": {"field": "md", "type": "quantitative"}, "color": {"datum": "Median"}, "shape": {"datum": "Median"}}},
                    {"data": {"name": "th"}, "transform": [{"filter": "datum.p == 'd'"}], "mark": {"type": "rule", "strokeWidth": 1.5}, "encoding": {"x": {"field": "t", "type": "quantitative"}, "color": {"datum": "θT PPLB"}, "strokeDash": {"datum": "θT PPLB"}}}
                  ]
                },
                {
                  "data": {"name": "di"},
                  "encoding": {"x": {"field": "a", "type": "quantitative", "scale": {"domain": [0, 20], "range": [21, 97], "nice": false, "zero": false}, "axis": {"orient": "bottom", "offset": -10, "values": [0, 10, 20], "labelFontSize": 12, "labelPadding": 1, "zindex": 1, "title": null}}},
                  "layer": [
                    {"transform": [{"filter": "datum.a == 0"}], "mark": {"type": "rect", "fill": "#ffffff", "stroke": "#c4c4c4", "strokeWidth": 1}, "encoding": {"x2": {"datum": 20}, "y": {"datum": 0.55, "scale": {"domain": [0.55, 0.72], "range": [106, 53], "nice": false, "zero": false}, "axis": {"orient": "left", "offset": -21, "values": [0.6, 0.65], "tickCount": 20, "format": ".2f", "labelFontSize": 12, "labelPadding": 1, "zindex": 1, "title": null}}, "y2": {"datum": 0.72}}},
                    {"mark": {"type": "area", "color": "#a9a9a9", "opacity": 1, "interpolate": "monotone", "invalid": "filter"}, "encoding": {"y": {"field": "lo", "type": "quantitative"}, "y2": {"field": "hi"}}},
                    {"mark": {"type": "line", "interpolate": "monotone", "strokeWidth": 1.5, "invalid": "filter"}, "encoding": {"y": {"field": "lb", "type": "quantitative"}, "color": {"datum": "LB model"}, "strokeDash": {"datum": "LB model"}}},
                    {"mark": {"type": "line", "interpolate": "monotone", "strokeWidth": 1.5, "invalid": "filter"}, "encoding": {"y": {"field": "pl", "type": "quantitative"}, "color": {"datum": "PPLP model"}, "strokeDash": {"datum": "PPLP model"}}},
                    {"mark": {"type": "line", "interpolate": "monotone", "strokeWidth": 1.8, "invalid": "filter"}, "encoding": {"y": {"field": "pb", "type": "quantitative"}, "color": {"datum": "PPLB model"}, "strokeDash": {"datum": "PPLB model"}}},
                    {"mark": {"type": "point", "filled": false, "opacity": 1, "size": 400, "strokeWidth": 1.2}, "encoding": {"y": {"field": "md", "type": "quantitative"}, "color": {"datum": "Median"}, "shape": {"datum": "Median"}}}
                  ]
                }
              ],
              "resolve": {"scale": {"x": "independent", "y": "independent"}}
            },
            {
              "title": "(e)", "width": 138, "height": 116,
              "layer": [
                {
                  "data": {"name": "em"},
                  "encoding": {"x": {"field": "a", "type": "quantitative", "scale": {"domain": [0, 70], "nice": false, "zero": false}, "axis": {"values": [0, 20, 40, 60], "title": null}}},
                  "layer": [
                    {"mark": {"type": "area", "color": "#a9a9a9", "opacity": 1, "interpolate": "monotone", "clip": true, "invalid": "filter"}, "encoding": {"y": {"field": "lo", "type": "quantitative", "scale": {"domain": [0.13, 0.75], "nice": false, "zero": false}, "axis": null}, "y2": {"field": "hi"}}},
                    {"mark": {"type": "line", "interpolate": "monotone", "clip": true, "strokeWidth": 1.5, "invalid": "filter"}, "encoding": {"y": {"field": "lb", "type": "quantitative"}, "color": {"datum": "LB model"}, "strokeDash": {"datum": "LB model"}}},
                    {"mark": {"type": "line", "interpolate": "monotone", "clip": true, "strokeWidth": 1.5, "invalid": "filter"}, "encoding": {"y": {"field": "pl", "type": "quantitative"}, "color": {"datum": "PPLP model"}, "strokeDash": {"datum": "PPLP model"}}},
                    {"mark": {"type": "line", "interpolate": "monotone", "clip": true, "strokeWidth": 1.8, "invalid": "filter"}, "encoding": {"y": {"field": "pb", "type": "quantitative"}, "color": {"datum": "PPLB model"}, "strokeDash": {"datum": "PPLB model"}}},
                    {"mark": {"type": "point", "filled": false, "opacity": 1, "size": 400, "strokeWidth": 1.2}, "encoding": {"y": {"field": "md", "type": "quantitative"}, "color": {"datum": "Median"}, "shape": {"datum": "Median"}}},
                    {"data": {"name": "th"}, "transform": [{"filter": "datum.p == 'e'"}], "mark": {"type": "rule", "strokeWidth": 1.5}, "encoding": {"x": {"field": "t", "type": "quantitative"}, "color": {"datum": "θT PPLB"}, "strokeDash": {"datum": "θT PPLB"}}},
                    {"data": {"name": "th"}, "transform": [{"filter": "datum.p == 'e'"}], "mark": {"type": "rule", "strokeWidth": 1, "opacity": 0}, "encoding": {"x": {"datum": 117}}}
                  ]
                },
                {
                  "data": {"name": "ei"},
                  "encoding": {"x": {"field": "a", "type": "quantitative", "scale": {"domain": [0, 20], "range": [20, 97], "nice": false, "zero": false}, "axis": {"orient": "bottom", "offset": -10, "values": [0, 10, 20], "labelFontSize": 12, "labelPadding": 1, "zindex": 1, "title": null}}},
                  "layer": [
                    {"transform": [{"filter": "datum.a == 0"}], "mark": {"type": "rect", "fill": "#ffffff", "stroke": "#c4c4c4", "strokeWidth": 1}, "encoding": {"x2": {"datum": 20}, "y": {"datum": 0.56, "scale": {"domain": [0.56, 0.757], "range": [106, 53], "nice": false, "zero": false}, "axis": {"orient": "left", "offset": -20, "values": [0.56, 0.64, 0.72], "tickCount": 20, "format": ".2f", "labelFontSize": 12, "labelPadding": 1, "zindex": 1, "title": null}}, "y2": {"datum": 0.757}}},
                    {"mark": {"type": "area", "color": "#a9a9a9", "opacity": 1, "interpolate": "monotone", "invalid": "filter"}, "encoding": {"y": {"field": "lo", "type": "quantitative"}, "y2": {"field": "hi"}}},
                    {"mark": {"type": "line", "interpolate": "monotone", "strokeWidth": 1.5, "invalid": "filter"}, "encoding": {"y": {"field": "lb", "type": "quantitative"}, "color": {"datum": "LB model"}, "strokeDash": {"datum": "LB model"}}},
                    {"mark": {"type": "line", "interpolate": "monotone", "strokeWidth": 1.5, "invalid": "filter"}, "encoding": {"y": {"field": "pl", "type": "quantitative"}, "color": {"datum": "PPLP model"}, "strokeDash": {"datum": "PPLP model"}}},
                    {"mark": {"type": "line", "interpolate": "monotone", "strokeWidth": 1.8, "invalid": "filter"}, "encoding": {"y": {"field": "pb", "type": "quantitative"}, "color": {"datum": "PPLB model"}, "strokeDash": {"datum": "PPLB model"}}},
                    {"mark": {"type": "point", "filled": false, "opacity": 1, "size": 400, "strokeWidth": 1.2}, "encoding": {"y": {"field": "md", "type": "quantitative"}, "color": {"datum": "Median"}, "shape": {"datum": "Median"}}}
                  ]
                }
              ],
              "resolve": {"scale": {"x": "independent", "y": "independent"}}
            }
          ]
        }
      ]
    },
    {
      "spacing": 0,
      "center": true,
      "vconcat": [
        {
          "spacing": 31,
          "bounds": "flush",
          "hconcat": [
            {
              "title": "(f)", "width": 138, "height": 116,
              "layer": [
                {
                  "data": {"name": "fm"},
                  "encoding": {"x": {"field": "a", "type": "quantitative", "scale": {"domain": [0, 70], "nice": false, "zero": false}, "axis": {"values": [0, 20, 40, 60], "title": null}}},
                  "layer": [
                    {"mark": {"type": "area", "color": "#a9a9a9", "opacity": 1, "interpolate": "monotone", "clip": true, "invalid": "filter"}, "encoding": {"y": {"field": "lo", "type": "quantitative", "scale": {"domain": [0.13, 0.75], "nice": false, "zero": false}, "axis": {"values": [0.15, 0.25, 0.35, 0.45, 0.55, 0.65, 0.75], "tickCount": 20, "format": ".2f", "labelPadding": 2, "title": null}}, "y2": {"field": "hi"}}},
                    {"mark": {"type": "line", "interpolate": "monotone", "clip": true, "strokeWidth": 1.5, "invalid": "filter"}, "encoding": {"y": {"field": "lb", "type": "quantitative"}, "color": {"datum": "LB model"}, "strokeDash": {"datum": "LB model"}}},
                    {"mark": {"type": "line", "interpolate": "monotone", "clip": true, "strokeWidth": 1.5, "invalid": "filter"}, "encoding": {"y": {"field": "pl", "type": "quantitative"}, "color": {"datum": "PPLP model"}, "strokeDash": {"datum": "PPLP model"}}},
                    {"mark": {"type": "line", "interpolate": "monotone", "clip": true, "strokeWidth": 1.8, "invalid": "filter"}, "encoding": {"y": {"field": "pb", "type": "quantitative"}, "color": {"datum": "PPLB model"}, "strokeDash": {"datum": "PPLB model"}}},
                    {"mark": {"type": "point", "filled": false, "opacity": 1, "size": 400, "strokeWidth": 1.2}, "encoding": {"y": {"field": "md", "type": "quantitative"}, "color": {"datum": "Median"}, "shape": {"datum": "Median"}}},
                    {"data": {"name": "th"}, "transform": [{"filter": "datum.p == 'f'"}], "mark": {"type": "rule", "strokeWidth": 1.5}, "encoding": {"x": {"field": "t", "type": "quantitative"}, "color": {"datum": "θT PPLB"}, "strokeDash": {"datum": "θT PPLB"}}}
                  ]
                },
                {
                  "data": {"name": "fi"},
                  "encoding": {"x": {"field": "a", "type": "quantitative", "scale": {"domain": [0, 20], "range": [21, 97], "nice": false, "zero": false}, "axis": {"orient": "bottom", "offset": -13, "values": [0, 10, 20], "labelFontSize": 12, "labelPadding": 1, "zindex": 1, "title": null}}},
                  "layer": [
                    {"transform": [{"filter": "datum.a == 0"}], "mark": {"type": "rect", "fill": "#ffffff", "stroke": "#c4c4c4", "strokeWidth": 1}, "encoding": {"x2": {"datum": 20}, "y": {"datum": 0.62, "scale": {"domain": [0.62, 0.7], "range": [103, 55], "nice": false, "zero": false}, "axis": {"orient": "left", "offset": -21, "values": [0.64, 0.68], "tickCount": 20, "format": ".2f", "labelFontSize": 12, "labelPadding": 1, "zindex": 1, "title": null}}, "y2": {"datum": 0.7}}},
                    {"mark": {"type": "area", "color": "#a9a9a9", "opacity": 1, "interpolate": "monotone", "invalid": "filter"}, "encoding": {"y": {"field": "lo", "type": "quantitative"}, "y2": {"field": "hi"}}},
                    {"mark": {"type": "line", "interpolate": "monotone", "strokeWidth": 1.5, "invalid": "filter"}, "encoding": {"y": {"field": "lb", "type": "quantitative"}, "color": {"datum": "LB model"}, "strokeDash": {"datum": "LB model"}}},
                    {"mark": {"type": "line", "interpolate": "monotone", "strokeWidth": 1.5, "invalid": "filter"}, "encoding": {"y": {"field": "pl", "type": "quantitative"}, "color": {"datum": "PPLP model"}, "strokeDash": {"datum": "PPLP model"}}},
                    {"mark": {"type": "line", "interpolate": "monotone", "strokeWidth": 1.8, "invalid": "filter"}, "encoding": {"y": {"field": "pb", "type": "quantitative"}, "color": {"datum": "PPLB model"}, "strokeDash": {"datum": "PPLB model"}}},
                    {"mark": {"type": "point", "filled": false, "opacity": 1, "size": 400, "strokeWidth": 1.2}, "encoding": {"y": {"field": "md", "type": "quantitative"}, "color": {"datum": "Median"}, "shape": {"datum": "Median"}}}
                  ]
                }
              ],
              "resolve": {"scale": {"x": "independent", "y": "independent"}}
            },
            {
              "title": "(g)", "width": 138, "height": 116,
              "layer": [
                {
                  "data": {"name": "gm"},
                  "encoding": {"x": {"field": "a", "type": "quantitative", "scale": {"domain": [0, 70], "nice": false, "zero": false}, "axis": {"values": [0, 20, 40, 60], "title": null}}},
                  "layer": [
                    {"mark": {"type": "area", "color": "#a9a9a9", "opacity": 1, "interpolate": "monotone", "clip": true, "invalid": "filter"}, "encoding": {"y": {"field": "lo", "type": "quantitative", "scale": {"domain": [0.13, 0.75], "nice": false, "zero": false}, "axis": null}, "y2": {"field": "hi"}}},
                    {"mark": {"type": "line", "interpolate": "monotone", "clip": true, "strokeWidth": 1.5, "invalid": "filter"}, "encoding": {"y": {"field": "lb", "type": "quantitative"}, "color": {"datum": "LB model"}, "strokeDash": {"datum": "LB model"}}},
                    {"mark": {"type": "line", "interpolate": "monotone", "clip": true, "strokeWidth": 1.5, "invalid": "filter"}, "encoding": {"y": {"field": "pl", "type": "quantitative"}, "color": {"datum": "PPLP model"}, "strokeDash": {"datum": "PPLP model"}}},
                    {"mark": {"type": "line", "interpolate": "monotone", "clip": true, "strokeWidth": 1.8, "invalid": "filter"}, "encoding": {"y": {"field": "pb", "type": "quantitative"}, "color": {"datum": "PPLB model"}, "strokeDash": {"datum": "PPLB model"}}},
                    {"mark": {"type": "point", "filled": false, "opacity": 1, "size": 400, "strokeWidth": 1.2}, "encoding": {"y": {"field": "md", "type": "quantitative"}, "color": {"datum": "Median"}, "shape": {"datum": "Median"}}}
                  ]
                },
                {
                  "data": {"name": "gi"},
                  "encoding": {"x": {"field": "a", "type": "quantitative", "scale": {"domain": [0, 20], "range": [22, 98], "nice": false, "zero": false}, "axis": {"orient": "bottom", "offset": -13, "values": [0, 10, 20], "labelFontSize": 12, "labelPadding": 1, "zindex": 1, "title": null}}},
                  "layer": [
                    {"transform": [{"filter": "datum.a == 0"}], "mark": {"type": "rect", "fill": "#ffffff", "stroke": "#c4c4c4", "strokeWidth": 1}, "encoding": {"x2": {"datum": 20}, "y": {"datum": 0.625, "scale": {"domain": [0.625, 0.755], "range": [103, 55], "nice": false, "zero": false}, "axis": {"orient": "left", "offset": -22, "values": [0.66, 0.72], "tickCount": 20, "format": ".2f", "labelFontSize": 12, "labelPadding": 1, "zindex": 1, "title": null}}, "y2": {"datum": 0.755}}},
                    {"mark": {"type": "area", "color": "#a9a9a9", "opacity": 1, "interpolate": "monotone", "invalid": "filter"}, "encoding": {"y": {"field": "lo", "type": "quantitative"}, "y2": {"field": "hi"}}},
                    {"mark": {"type": "line", "interpolate": "monotone", "strokeWidth": 1.5, "invalid": "filter"}, "encoding": {"y": {"field": "lb", "type": "quantitative"}, "color": {"datum": "LB model"}, "strokeDash": {"datum": "LB model"}}},
                    {"mark": {"type": "line", "interpolate": "monotone", "strokeWidth": 1.5, "invalid": "filter"}, "encoding": {"y": {"field": "pl", "type": "quantitative"}, "color": {"datum": "PPLP model"}, "strokeDash": {"datum": "PPLP model"}}},
                    {"mark": {"type": "line", "interpolate": "monotone", "strokeWidth": 1.8, "invalid": "filter"}, "encoding": {"y": {"field": "pb", "type": "quantitative"}, "color": {"datum": "PPLB model"}, "strokeDash": {"datum": "PPLB model"}}},
                    {"mark": {"type": "point", "filled": false, "opacity": 1, "size": 400, "strokeWidth": 1.2}, "encoding": {"y": {"field": "md", "type": "quantitative"}, "color": {"datum": "Median"}, "shape": {"datum": "Median"}}},
                    {"transform": [{"filter": "datum.a == 0"}], "mark": {"type": "rule", "strokeWidth": 1.5}, "encoding": {"x": {"datum": 0.3}, "y": {"datum": 0.625}, "y2": {"datum": 0.755}, "color": {"datum": "θT PPLB"}, "strokeDash": {"datum": "θT PPLB"}}}
                  ]
                }
              ],
              "resolve": {"scale": {"x": "independent", "y": "independent"}}
            },
            {
              "title": "(h)", "width": 138, "height": 116,
              "layer": [
                {
                  "data": {"name": "hm"},
                  "encoding": {"x": {"field": "a", "type": "quantitative", "scale": {"domain": [0, 70], "nice": false, "zero": false}, "axis": {"values": [0, 20, 40, 60], "title": null}}},
                  "layer": [
                    {"mark": {"type": "area", "color": "#a9a9a9", "opacity": 1, "interpolate": "monotone", "clip": true, "invalid": "filter"}, "encoding": {"y": {"field": "lo", "type": "quantitative", "scale": {"domain": [0.13, 0.75], "nice": false, "zero": false}, "axis": null}, "y2": {"field": "hi"}}},
                    {"mark": {"type": "line", "interpolate": "monotone", "clip": true, "strokeWidth": 1.5, "invalid": "filter"}, "encoding": {"y": {"field": "lb", "type": "quantitative"}, "color": {"datum": "LB model"}, "strokeDash": {"datum": "LB model"}}},
                    {"mark": {"type": "line", "interpolate": "monotone", "clip": true, "strokeWidth": 1.5, "invalid": "filter"}, "encoding": {"y": {"field": "pl", "type": "quantitative"}, "color": {"datum": "PPLP model"}, "strokeDash": {"datum": "PPLP model"}}},
                    {"mark": {"type": "line", "interpolate": "monotone", "clip": true, "strokeWidth": 1.8, "invalid": "filter"}, "encoding": {"y": {"field": "pb", "type": "quantitative"}, "color": {"datum": "PPLB model"}, "strokeDash": {"datum": "PPLB model"}}},
                    {"mark": {"type": "point", "filled": false, "opacity": 1, "size": 400, "strokeWidth": 1.2}, "encoding": {"y": {"field": "md", "type": "quantitative"}, "color": {"datum": "Median"}, "shape": {"datum": "Median"}}},
                    {"data": {"name": "th"}, "transform": [{"filter": "datum.p == 'h'"}], "mark": {"type": "rule", "strokeWidth": 1.5}, "encoding": {"x": {"field": "t", "type": "quantitative"}, "color": {"datum": "θT PPLB"}, "strokeDash": {"datum": "θT PPLB"}}}
                  ]
                },
                {
                  "data": {"name": "hi"},
                  "encoding": {"x": {"field": "a", "type": "quantitative", "scale": {"domain": [0, 20], "range": [21, 97], "nice": false, "zero": false}, "axis": {"orient": "bottom", "offset": -13, "values": [0, 10, 20], "labelFontSize": 12, "labelPadding": 1, "zindex": 1, "title": null}}},
                  "layer": [
                    {"transform": [{"filter": "datum.a == 0"}], "mark": {"type": "rect", "fill": "#ffffff", "stroke": "#c4c4c4", "strokeWidth": 1}, "encoding": {"x2": {"datum": 20}, "y": {"datum": 0.626, "scale": {"domain": [0.626, 0.751], "range": [103, 55], "nice": false, "zero": false}, "axis": {"orient": "left", "offset": -21, "values": [0.66, 0.72], "tickCount": 20, "format": ".2f", "labelFontSize": 12, "labelPadding": 1, "zindex": 1, "title": null}}, "y2": {"datum": 0.751}}},
                    {"mark": {"type": "area", "color": "#a9a9a9", "opacity": 1, "interpolate": "monotone", "invalid": "filter"}, "encoding": {"y": {"field": "lo", "type": "quantitative"}, "y2": {"field": "hi"}}},
                    {"mark": {"type": "line", "interpolate": "monotone", "strokeWidth": 1.5, "invalid": "filter"}, "encoding": {"y": {"field": "lb", "type": "quantitative"}, "color": {"datum": "LB model"}, "strokeDash": {"datum": "LB model"}}},
                    {"mark": {"type": "line", "interpolate": "monotone", "strokeWidth": 1.5, "invalid": "filter"}, "encoding": {"y": {"field": "pl", "type": "quantitative"}, "color": {"datum": "PPLP model"}, "strokeDash": {"datum": "PPLP model"}}},
                    {"mark": {"type": "line", "interpolate": "monotone", "strokeWidth": 1.8, "invalid": "filter"}, "encoding": {"y": {"field": "pb", "type": "quantitative"}, "color": {"datum": "PPLB model"}, "strokeDash": {"datum": "PPLB model"}}},
                    {"mark": {"type": "point", "filled": false, "opacity": 1, "size": 400, "strokeWidth": 1.2}, "encoding": {"y": {"field": "md", "type": "quantitative"}, "color": {"datum": "Median"}, "shape": {"datum": "Median"}}}
                  ]
                }
              ],
              "resolve": {"scale": {"x": "independent", "y": "independent"}}
            }
          ]
        },
        {
          "spacing": 31,
          "bounds": "flush",
          "hconcat": [
            {
              "title": "(i)", "width": 138, "height": 116,
              "layer": [
                {
                  "data": {"name": "im"},
                  "encoding": {"x": {"field": "a", "type": "quantitative", "scale": {"domain": [0, 70], "nice": false, "zero": false}, "axis": {"values": [0, 20, 40, 60], "title": null}}},
                  "layer": [
                    {"mark": {"type": "area", "color": "#a9a9a9", "opacity": 1, "interpolate": "monotone", "clip": true, "invalid": "filter"}, "encoding": {"y": {"field": "lo", "type": "quantitative", "scale": {"domain": [0.2, 0.75], "nice": false, "zero": false}, "axis": {"values": [0.25, 0.35, 0.45, 0.55, 0.65, 0.75], "tickCount": 20, "format": ".2f", "labelPadding": 2, "title": "Normalized Intensity", "titleFontSize": 13.5, "titleAngle": -90, "titleX": -108, "titleY": 58}}, "y2": {"field": "hi"}}},
                    {"mark": {"type": "line", "interpolate": "monotone", "clip": true, "strokeWidth": 1.5, "invalid": "filter"}, "encoding": {"y": {"field": "lb", "type": "quantitative"}, "color": {"datum": "LB model"}, "strokeDash": {"datum": "LB model"}}},
                    {"mark": {"type": "line", "interpolate": "monotone", "clip": true, "strokeWidth": 1.5, "invalid": "filter"}, "encoding": {"y": {"field": "pl", "type": "quantitative"}, "color": {"datum": "PPLP model"}, "strokeDash": {"datum": "PPLP model"}}},
                    {"mark": {"type": "line", "interpolate": "monotone", "clip": true, "strokeWidth": 1.8, "invalid": "filter"}, "encoding": {"y": {"field": "pb", "type": "quantitative"}, "color": {"datum": "PPLB model"}, "strokeDash": {"datum": "PPLB model"}}},
                    {"mark": {"type": "point", "filled": false, "opacity": 1, "size": 400, "strokeWidth": 1.2}, "encoding": {"y": {"field": "md", "type": "quantitative"}, "color": {"datum": "Median"}, "shape": {"datum": "Median"}}},
                    {"data": {"name": "th"}, "transform": [{"filter": "datum.p == 'i'"}], "mark": {"type": "rule", "strokeWidth": 1.5}, "encoding": {"x": {"field": "t", "type": "quantitative"}, "color": {"datum": "θT PPLB"}, "strokeDash": {"datum": "θT PPLB"}}}
                  ]
                },
                {
                  "data": {"name": "ii"},
                  "encoding": {"x": {"field": "a", "type": "quantitative", "scale": {"domain": [0, 20], "range": [20, 97], "nice": false, "zero": false}, "axis": {"orient": "bottom", "offset": -12, "values": [0, 10, 20], "labelFontSize": 12, "labelPadding": 1, "zindex": 1, "title": null}}},
                  "layer": [
                    {"transform": [{"filter": "datum.a == 0"}], "mark": {"type": "rect", "fill": "#ffffff", "stroke": "#c4c4c4", "strokeWidth": 1}, "encoding": {"x2": {"datum": 20}, "y": {"datum": 0.6, "scale": {"domain": [0.6, 0.7], "range": [104, 51], "nice": false, "zero": false}, "axis": {"orient": "left", "offset": -20, "values": [0.64, 0.68], "tickCount": 20, "format": ".2f", "labelFontSize": 12, "labelPadding": 1, "zindex": 1, "title": null}}, "y2": {"datum": 0.7}}},
                    {"mark": {"type": "area", "color": "#a9a9a9", "opacity": 1, "interpolate": "monotone", "invalid": "filter"}, "encoding": {"y": {"field": "lo", "type": "quantitative"}, "y2": {"field": "hi"}}},
                    {"mark": {"type": "line", "interpolate": "monotone", "strokeWidth": 1.5, "invalid": "filter"}, "encoding": {"y": {"field": "lb", "type": "quantitative"}, "color": {"datum": "LB model"}, "strokeDash": {"datum": "LB model"}}},
                    {"mark": {"type": "line", "interpolate": "monotone", "strokeWidth": 1.5, "invalid": "filter"}, "encoding": {"y": {"field": "pl", "type": "quantitative"}, "color": {"datum": "PPLP model"}, "strokeDash": {"datum": "PPLP model"}}},
                    {"mark": {"type": "line", "interpolate": "monotone", "strokeWidth": 1.8, "invalid": "filter"}, "encoding": {"y": {"field": "pb", "type": "quantitative"}, "color": {"datum": "PPLB model"}, "strokeDash": {"datum": "PPLB model"}}},
                    {"mark": {"type": "point", "filled": false, "opacity": 1, "size": 400, "strokeWidth": 1.2}, "encoding": {"y": {"field": "md", "type": "quantitative"}, "color": {"datum": "Median"}, "shape": {"datum": "Median"}}}
                  ]
                }
              ],
              "resolve": {"scale": {"x": "independent", "y": "independent"}}
            },
            {
              "title": "(j)", "width": 138, "height": 116,
              "layer": [
                {
                  "data": {"name": "jm"},
                  "encoding": {"x": {"field": "a", "type": "quantitative", "scale": {"domain": [0, 70], "nice": false, "zero": false}, "axis": {"values": [0, 20, 40, 60], "title": null}}},
                  "layer": [
                    {"mark": {"type": "area", "color": "#a9a9a9", "opacity": 1, "interpolate": "monotone", "clip": true, "invalid": "filter"}, "encoding": {"y": {"field": "lo", "type": "quantitative", "scale": {"domain": [0.2, 0.75], "nice": false, "zero": false}, "axis": null}, "y2": {"field": "hi"}}},
                    {"mark": {"type": "line", "interpolate": "monotone", "clip": true, "strokeWidth": 1.5, "invalid": "filter"}, "encoding": {"y": {"field": "lb", "type": "quantitative"}, "color": {"datum": "LB model"}, "strokeDash": {"datum": "LB model"}}},
                    {"mark": {"type": "line", "interpolate": "monotone", "clip": true, "strokeWidth": 1.5, "invalid": "filter"}, "encoding": {"y": {"field": "pl", "type": "quantitative"}, "color": {"datum": "PPLP model"}, "strokeDash": {"datum": "PPLP model"}}},
                    {"mark": {"type": "line", "interpolate": "monotone", "clip": true, "strokeWidth": 1.8, "invalid": "filter"}, "encoding": {"y": {"field": "pb", "type": "quantitative"}, "color": {"datum": "PPLB model"}, "strokeDash": {"datum": "PPLB model"}}},
                    {"mark": {"type": "point", "filled": false, "opacity": 1, "size": 400, "strokeWidth": 1.2}, "encoding": {"y": {"field": "md", "type": "quantitative"}, "color": {"datum": "Median"}, "shape": {"datum": "Median"}}},
                    {"data": {"name": "th"}, "transform": [{"filter": "datum.p == 'j'"}], "mark": {"type": "rule", "strokeWidth": 1.5}, "encoding": {"x": {"field": "t", "type": "quantitative"}, "color": {"datum": "θT PPLB"}, "strokeDash": {"datum": "θT PPLB"}}},
                    {"data": {"name": "th"}, "transform": [{"filter": "datum.p == 'j'"}], "mark": {"type": "rule", "strokeWidth": 1, "opacity": 0}, "encoding": {"x": {"datum": 117}}}
                  ]
                },
                {
                  "data": {"name": "ji"},
                  "encoding": {"x": {"field": "a", "type": "quantitative", "scale": {"domain": [0, 20], "range": [21, 98], "nice": false, "zero": false}, "axis": {"orient": "bottom", "offset": -12, "values": [0, 10, 20], "labelFontSize": 12, "labelPadding": 1, "zindex": 1, "title": null}}},
                  "layer": [
                    {"transform": [{"filter": "datum.a == 0"}], "mark": {"type": "rect", "fill": "#ffffff", "stroke": "#c4c4c4", "strokeWidth": 1}, "encoding": {"x2": {"datum": 20}, "y": {"datum": 0.6, "scale": {"domain": [0.6, 0.7], "range": [104, 51], "nice": false, "zero": false}, "axis": {"orient": "left", "offset": -21, "values": [0.64, 0.68], "tickCount": 20, "format": ".2f", "labelFontSize": 12, "labelPadding": 1, "zindex": 1, "title": null}}, "y2": {"datum": 0.7}}},
                    {"mark": {"type": "area", "color": "#a9a9a9", "opacity": 1, "interpolate": "monotone", "invalid": "filter"}, "encoding": {"y": {"field": "lo", "type": "quantitative"}, "y2": {"field": "hi"}}},
                    {"mark": {"type": "line", "interpolate": "monotone", "strokeWidth": 1.5, "invalid": "filter"}, "encoding": {"y": {"field": "lb", "type": "quantitative"}, "color": {"datum": "LB model"}, "strokeDash": {"datum": "LB model"}}},
                    {"mark": {"type": "line", "interpolate": "monotone", "strokeWidth": 1.5, "invalid": "filter"}, "encoding": {"y": {"field": "pl", "type": "quantitative"}, "color": {"datum": "PPLP model"}, "strokeDash": {"datum": "PPLP model"}}},
                    {"mark": {"type": "line", "interpolate": "monotone", "strokeWidth": 1.8, "invalid": "filter"}, "encoding": {"y": {"field": "pb", "type": "quantitative"}, "color": {"datum": "PPLB model"}, "strokeDash": {"datum": "PPLB model"}}},
                    {"mark": {"type": "point", "filled": false, "opacity": 1, "size": 400, "strokeWidth": 1.2}, "encoding": {"y": {"field": "md", "type": "quantitative"}, "color": {"datum": "Median"}, "shape": {"datum": "Median"}}}
                  ]
                }
              ],
              "resolve": {"scale": {"x": "independent", "y": "independent"}}
            }
          ]
        }
      ]
    }
  ]
}
